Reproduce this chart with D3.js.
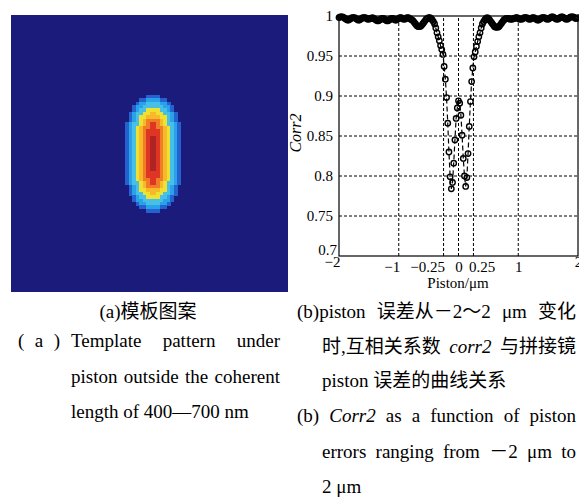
<!DOCTYPE html>
<html>
<head>
<meta charset="utf-8">
<script src="https://cdn.jsdelivr.net/npm/d3@7"></script>
<style>
  body { margin: 0; background: #fff; }
  svg text { font-family: "Liberation Serif", "Noto Sans CJK SC", serif; fill: #000; }
</style>
</head>
<body>
<svg id="fig" width="579" height="502"></svg>
<script>
// ---- datos (a): nivel de color por celda, 0 = fondo ----
const heatLevels = ["#1b1b7b", "#2463cf", "#29a2e9", "#48bfe4", "#efe131", "#f7b82a", "#ef7e27", "#de3524", "#ae2424"];
const blobRows = [
  "000000011110000000",
  "000001122221100000",
  "000012233332210000",
  "000122333333221000",
  "000123344443321000",
  "001233445544332100",
  "001234455554432100",
  "001234566665432100",
  "012334567765433210",
  "012345667766543210",
  "012345677776543210",
  "012345677776543210",
  "012345678876543210",
  "012345678876543210",
  "012345678876543210",
  "012345678876543210",
  "012345678876543210",
  "012345678876543210",
  "012345678876543210",
  "012345678876543210",
  "012345678876543210",
  "012345678876543210",
  "012345677776543210",
  "012345677776543210",
  "012345667766543210",
  "012334567765433210",
  "001234566665432100",
  "001234455554432100",
  "001233445544332100",
  "000123344443321000",
  "000122333333221000",
  "000012233332210000",
  "000001122221100000",
  "000000011110000000"
];
const gridN = 80, blobCol0 = 32, blobRow0 = 23;

// ---- datos (b): corr2 vs piston, paso 0.02 um ----
const pistonStart = -2, pistonStep = 0.02;
const corrLeft = [
  0.998, 0.999, 0.999, 0.999, 0.998, 0.997, 0.996, 0.995, 0.995, 0.996, 0.997, 0.998, 0.998, 0.998, 0.997, 0.996, 0.995, 0.995, 0.996, 0.997,
  0.998, 0.998, 0.998, 0.997, 0.996, 0.996, 0.997, 0.997, 0.998, 0.997, 0.996, 0.995, 0.994, 0.994, 0.995, 0.996, 0.997, 0.997, 0.996, 0.995,
  0.994, 0.994, 0.995, 0.996, 0.997, 0.997, 0.996, 0.995, 0.995, 0.996, 0.997, 0.998, 0.998, 0.997, 0.996, 0.996, 0.997, 0.998, 0.998, 0.997,
  0.996, 0.995, 0.994, 0.992, 0.990, 0.988, 0.987, 0.987, 0.987, 0.988, 0.990, 0.992, 0.994, 0.996, 0.997, 0.998, 0.998, 0.997, 0.995, 0.993
];
const corrCenter = [
  0.990, 0.985, 0.979, 0.974, 0.969, 0.963, 0.958, 0.952, 0.937, 0.921,
  0.898, 0.866, 0.830, 0.799, 0.784, 0.792, 0.816, 0.845, 0.872, 0.885,
  0.894,
  0.891, 0.876, 0.851, 0.822, 0.800, 0.787, 0.798, 0.828, 0.862, 0.893,
  0.918, 0.935, 0.949, 0.955, 0.962, 0.968, 0.974, 0.979, 0.985, 0.990
];
const corrRight = [
  0.993, 0.995, 0.997, 0.998, 0.997, 0.995, 0.993, 0.991, 0.989, 0.987, 0.986, 0.986, 0.986, 0.987, 0.989, 0.991, 0.993, 0.995, 0.996, 0.997,
  0.997, 0.997, 0.996, 0.996, 0.996, 0.997, 0.997, 0.998, 0.998, 0.997, 0.996, 0.996, 0.996, 0.997, 0.998, 0.998, 0.998, 0.997, 0.996, 0.996,
  0.997, 0.998, 0.998, 0.997, 0.996, 0.995, 0.995, 0.996, 0.997, 0.998, 0.998, 0.998, 0.997, 0.996, 0.996, 0.997, 0.998, 0.999, 0.999, 0.998,
  0.997, 0.996, 0.996, 0.997, 0.998, 0.999, 0.999, 0.998, 0.997, 0.996, 0.996, 0.997, 0.998, 0.999, 0.999, 0.999, 0.998, 0.997, 0.997, 0.998
];
const xTicks = [-2, -1, -0.25, 0, 0.25, 1, 2];
const yTicks = [0.7, 0.75, 0.8, 0.85, 0.9, 0.95, 1];
const xGrid = [-1, -0.25, 0, 0.25, 1];
const yGrid = [0.75, 0.8, 0.85, 0.9, 0.95];

const svg = d3.select("#fig");

// ================= (a) mapa =================
const hx = d3.scaleBand().domain(d3.range(gridN)).range([11, 288]);
const hy = d3.scaleBand().domain(d3.range(gridN)).range([15, 292]);
const heatColor = d3.scaleOrdinal().domain(d3.range(heatLevels.length)).range(heatLevels);

const cells = [];
blobRows.forEach((row, i) => {
  row.split("").forEach((ch, j) => {
    if (+ch > 0) cells.push({ r: blobRow0 + i, c: blobCol0 + j, v: +ch });
  });
});

const gHeat = svg.append("g").attr("shape-rendering", "crispEdges");
gHeat.append("rect")
  .attr("x", hx(0)).attr("y", hy(0))
  .attr("width", hx.step() * gridN).attr("height", hy.step() * gridN)
  .attr("fill", heatColor(0));
gHeat.selectAll("rect.cell").data(cells).enter().append("rect")
  .attr("class", "cell")
  .attr("x", d => hx(d.c)).attr("y", d => hy(d.r))
  .attr("width", hx.bandwidth() + 0.5).attr("height", hy.bandwidth() + 0.5)
  .attr("fill", d => heatColor(d.v));

// ================= (b) curva =================
const x = d3.scaleLinear().domain([-2, 2]).range([339, 578]);
const y = d3.scaleLinear().domain([0.7, 1]).range([256, 16]);

const corr2 = corrLeft.concat(corrCenter, corrRight);
const pts = corr2.map((v, i) => ({ p: pistonStart + i * pistonStep, v: v }));

const g = svg.append("g");

// rejilla punteada
g.selectAll("line.vg").data(xGrid).enter().append("line")
  .attr("x1", d => x(d)).attr("x2", d => x(d))
  .attr("y1", y(0.7)).attr("y2", y(1))
  .attr("stroke", "#000").attr("stroke-width", 1).attr("stroke-dasharray", "3,2");
g.selectAll("line.hg").data(yGrid).enter().append("line")
  .attr("x1", x(-2)).attr("x2", x(2))
  .attr("y1", d => y(d)).attr("y2", d => y(d))
  .attr("stroke", "#000").attr("stroke-width", 1).attr("stroke-dasharray", "3,2");

// ejes
const xAxis = g.append("g").attr("transform", `translate(0,${y(0.7)})`)
  .call(d3.axisBottom(x).tickValues(xTicks).tickSize(0).tickPadding(5).tickFormat(d3.format("~g")));
xAxis.select(".domain").remove();
xAxis.selectAll("text")
  .attr("font-family", null).attr("font-size", 15)
  .attr("text-anchor", d => d < 0 ? "end" : (d === 0.25 ? "start" : "middle"))
  .attr("dx", d => d < 0 ? 1 : (d === 0.25 ? -5 : 0))
  .attr("y", d => Math.abs(d) === 2 ? 0 : 5);
xAxis.attr("font-family", null).attr("font-size", null);

const yAxis = g.append("g").attr("transform", `translate(${x(-2)},0)`)
  .call(d3.axisLeft(y).tickValues(yTicks).tickSize(0).tickPadding(6).tickFormat(d3.format("~g")));
yAxis.select(".domain").remove();
yAxis.selectAll("text")
  .attr("font-family", null).attr("font-size", 15)
  .attr("dx", d => d === 0.7 ? 4 : 0)
  .attr("dy", d => d === 0.7 ? "-0.1em" : "0.32em");
yAxis.attr("font-family", null).attr("font-size", null);

g.append("rect")
  .attr("x", x(-2)).attr("y", y(1))
  .attr("width", x(2) - x(-2)).attr("height", y(0.7) - y(1))
  .attr("fill", "none").attr("stroke", "#000").attr("stroke-width", 1.2);

// curva y marcadores
g.append("path").datum(pts)
  .attr("d", d3.line().x(d => x(d.p)).y(d => y(d.v)))
  .attr("fill", "none").attr("stroke", "#000").attr("stroke-width", 1.2)
  .attr("stroke-dasharray", "5,3");
g.selectAll("circle").data(pts).enter().append("circle")
  .attr("cx", d => x(d.p)).attr("cy", d => y(d.v)).attr("r", 2.7)
  .attr("fill", "none").attr("stroke", "#000").attr("stroke-width", 1.4);

// etiquetas de ejes
g.append("text").attr("x", 458).attr("y", 288).attr("text-anchor", "middle")
  .attr("font-size", 15).text("Piston/μm");
g.append("text").attr("transform", "translate(301,133) rotate(-90)")
  .attr("text-anchor", "middle").attr("font-size", 16).attr("font-style", "italic")
  .text("Corr2");

// ================= leyendas =================
const cap = svg.append("g").attr("font-size", 19);

function justifyLine(words, x0, x1, yb) {
  const nodes = words.map(w => cap.append("text").attr("y", yb)
    .attr("font-style", w.it ? "italic" : null).text(w.t));
  const widths = nodes.map(n => n.node().getComputedTextLength());
  const gap = (x1 - x0 - d3.sum(widths)) / (words.length - 1);
  let cx = x0;
  nodes.forEach((n, i) => { n.attr("x", cx); cx += widths[i] + gap; });
}
function plainLine(words, x0, yb, anchor) {
  const t = cap.append("text").attr("x", x0).attr("y", yb).attr("text-anchor", anchor || "start");
  words.forEach(w => t.append("tspan").attr("font-style", w.it ? "italic" : null).text(w.t));
}
const W = s => ({ t: s });
const I = s => ({ t: s, it: true });

plainLine([W("(a)模板图案")], 148, 318, "middle");
justifyLine([W("("), W("a"), W(")")], 18, 60, 347);
justifyLine([W("Template"), W("pattern"), W("under")], 71, 280, 347);
justifyLine([W("piston"), W("outside"), W("the"), W("coherent")], 71, 280, 383);
plainLine([W("length of 400—700 nm")], 71, 418);

justifyLine([W("(b)piston"), W("误差从－2～2"), W("μm"), W("变化")], 297, 576, 318);
justifyLine([W("时,互相关系数"), I("corr2"), W("与拼接镜")], 322, 576, 353);
plainLine([W("piston 误差的曲线关系")], 322, 387);
justifyLine([W("(b)"), I("Corr2"), W("as"), W("a"), W("function"), W("of"), W("piston")], 297, 576, 422);
justifyLine([W("errors"), W("ranging"), W("from"), W("－2"), W("μm"), W("to")], 322, 576, 458);
plainLine([W("2 μm")], 322, 493);
</script>
</body>
</html>
